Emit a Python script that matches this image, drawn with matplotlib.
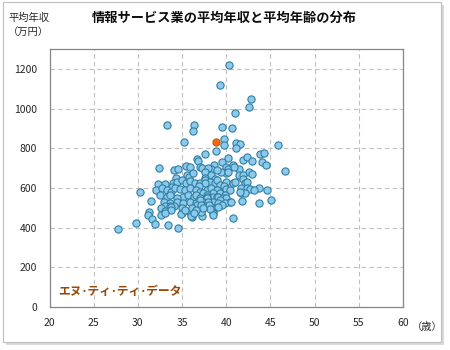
import numpy as np
import matplotlib.pyplot as plt
from matplotlib.patches import Rectangle

plt.rcParams['font.family'] = ['Noto Sans CJK JP', 'DejaVu Sans']

# (平均年齢, 平均年収) for each company
companies = [
    # 800 and above
    (40.3, 1218), (39.3, 1117), (42.8, 1047), (42.6, 1006), (41.0, 976),
    (33.3, 916), (36.3, 916), (36.2, 886), (39.5, 906), (40.7, 901),
    (35.2, 830), (39.7, 845), (39.8, 815), (41.1, 825), (41.5, 820),
    (41.1, 801), (45.8, 815),
    # 700 - 800
    (38.8, 786), (37.6, 770), (36.7, 744), (36.8, 735), (40.2, 749),
    (39.5, 729), (41.9, 741), (42.4, 754), (42.9, 737), (43.8, 770),
    (44.3, 775), (44.1, 729), (44.5, 714), (32.4, 699), (34.1, 689),
    (34.5, 694), (35.4, 709), (35.9, 704), (37.0, 704), (37.3, 699),
    (38.6, 714), (38.3, 694), (40.0, 704), (40.2, 694), (40.8, 714),
    (41.4, 694), (40.9, 707), (37.9, 699),
    # 650 - 700
    (46.7, 684), (42.6, 679), (42.9, 669), (35.6, 665), (35.8, 657),
    (37.6, 679), (38.3, 665), (40.0, 674), (39.4, 682), (40.2, 679),
    (41.8, 657), (41.4, 665), (41.9, 665), (34.3, 649), (37.6, 649),
    (38.7, 644), (41.9, 644), (36.2, 675), (38.9, 690),
    # 600 - 650
    (32.3, 620), (33.1, 620), (34.0, 623), (34.4, 631), (35.0, 640),
    (35.5, 626), (35.9, 636), (36.5, 623), (37.0, 626), (37.6, 640),
    (38.2, 631), (38.7, 623), (38.9, 640), (37.6, 623), (39.3, 615),
    (40.0, 631), (40.8, 626), (41.0, 631), (42.1, 623), (42.3, 631),
    (36.9, 611), (39.8, 610), (33.9, 605),
    # 550 - 600
    (30.2, 578), (32.1, 590), (32.7, 598), (33.3, 590), (33.8, 581),
    (34.2, 598), (34.8, 593), (35.3, 590), (35.9, 598), (36.6, 590),
    (37.0, 581), (37.8, 590), (38.3, 598), (38.9, 590), (38.5, 573),
    (37.4, 573), (39.7, 581), (39.3, 573), (40.0, 593), (40.4, 590),
    (41.7, 598), (41.7, 573), (42.3, 598), (42.7, 593), (42.1, 573),
    (41.5, 581), (43.7, 598), (43.1, 590), (44.6, 590), (32.5, 564),
    (33.3, 556), (33.6, 564), (35.1, 556), (35.7, 564), (36.3, 556),
    (37.8, 564), (38.5, 556), (38.9, 556), (39.9, 564), (36.6, 564),
    (37.8, 556), (39.1, 556), (39.6, 548),
    # 500 - 550
    (31.5, 534), (34.4, 548), (37.0, 548), (37.8, 548), (40.0, 548),
    (32.9, 531), (33.6, 523), (34.4, 531), (35.1, 523), (35.9, 531),
    (36.6, 523), (37.4, 531), (38.3, 523), (38.5, 531), (37.9, 527),
    (39.3, 539), (39.1, 523), (40.4, 531), (39.9, 523), (40.5, 528),
    (41.8, 534), (43.7, 526), (45.1, 541), (37.0, 539), (33.1, 509),
    (33.6, 509), (34.1, 509), (36.7, 514), (37.6, 509), (38.3, 505),
    (39.5, 514), (39.1, 506), (37.1, 514), (38.0, 514), (33.8, 505),
    # 450 - 500
    (31.3, 477), (31.2, 464), (32.6, 497), (33.1, 484), (32.6, 462),
    (33.8, 490), (35.0, 497), (35.0, 472), (36.1, 455), (37.2, 459),
    (38.5, 480), (34.9, 469), (35.9, 480), (36.0, 459), (37.1, 480),
    (38.5, 475), (38.2, 492), (37.4, 497), (35.3, 489), (36.1, 497),
    (36.6, 489), (36.3, 472), (38.5, 464), (40.8, 447), (33.1, 472),
    # below 450
    (31.6, 442), (31.9, 418), (29.8, 422), (27.7, 392), (33.4, 412),
    (34.5, 397),
]
ages = np.array([c[0] for c in companies])
salaries = np.array([c[1] for c in companies])

# エヌ・ティ・ティ・データ
nttd_age = 38.8
nttd_salary = 832

x_ticks = [20, 25, 30, 35, 40, 45, 50, 55, 60]
y_ticks = [0, 200, 400, 600, 800, 1000, 1200]

fig = plt.figure(figsize=(4.5, 3.5), dpi=100)
fig.patch.set_facecolor('white')

# chart frame with a soft shadow
fig.patches.append(Rectangle((6 / 450, 1 - 345 / 350), 438 / 450, 340 / 350,
                             transform=fig.transFigure, facecolor='#d9d9d9',
                             edgecolor='none', zorder=0))
fig.patches.append(Rectangle((3 / 450, 1 - 342 / 350), 438 / 450, 340 / 350,
                             transform=fig.transFigure, facecolor='white',
                             edgecolor='#bfbfbf', linewidth=0.8, zorder=1))

ax = fig.add_axes([49.5 / 450, 1 - 307 / 350, 353.5 / 450, 258 / 350])
ax.set_zorder(2)
ax.set_facecolor('white')

ax.scatter(ages, salaries, s=27, facecolor='#8dc9ef', edgecolor='#2f7f9e',
           linewidth=0.8, zorder=3)
ax.scatter([nttd_age], [nttd_salary], s=27, facecolor='#f06a0f',
           edgecolor='#c65a12', linewidth=0.8, zorder=4)

ax.set_xlim(20, 60)
ax.set_ylim(0, 1300)
ax.set_xticks(x_ticks)
ax.set_yticks(y_ticks)
ax.grid(True, color='#bfbfbf', linestyle=(0, (4, 3)), linewidth=0.8)
ax.set_axisbelow(True)
for sp in ax.spines.values():
    sp.set_color('#868686')
    sp.set_linewidth(0.9)
ax.tick_params(length=0, labelsize=7.5, colors='#262626', pad=8)
ax.tick_params(axis='y', pad=9)

fig.text(8 / 450, 1 - 25 / 350, '平均年収\n（万円）', fontsize=7.4,
         color='#262626', va='center', ha='left', linespacing=1.45)
fig.text(224 / 450, 1 - 18 / 350, '情報サービス業の平均年収と平均年齢の分布',
         fontsize=9.5, fontweight='bold', ha='center', va='center',
         color='#0d0d0d')
fig.text(412 / 450, 1 - 327 / 350, '（歳）', fontsize=7.4, color='#262626',
         ha='left', va='center')
ax.text(21.0, 80, 'エヌ･ティ･ティ･データ', fontsize=8.5, fontweight='bold',
        color='#984806', ha='left', va='center')

fig.savefig('out.png', dpi=100)
